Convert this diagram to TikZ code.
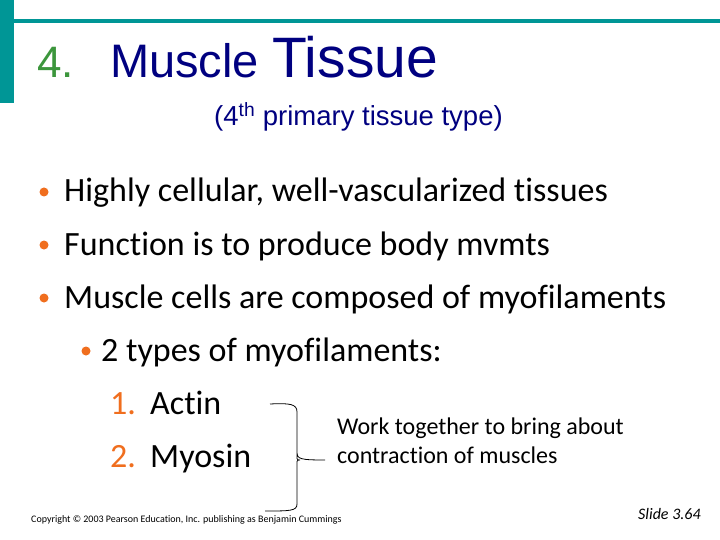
\documentclass[tikz,border=0pt]{standalone}
\usepackage{fontspec}
\setmainfont{Carlito}[Ligatures=NoCommon]
\newfontfamily\arialf{Liberation Sans}
\definecolor{teal1}{RGB}{0,150,150}
\definecolor{navy1}{RGB}{0,0,128}
\definecolor{green1}{RGB}{60,150,60}
\definecolor{orange1}{RGB}{240,110,30}
\begin{document}
\begin{tikzpicture}[x=1pt,y=-1pt,
  body/.style={anchor=base west,inner sep=0pt,font=\fontsize{34}{38}\selectfont},
  bul/.style={circle,fill=orange1,inner sep=0pt,minimum size=9pt},
  num/.style={anchor=base west,inner sep=0pt,font=\fontsize{34}{38}\selectfont,text=orange1}]
\useasboundingbox (0,0) rectangle (720,540);
\fill[white] (0,0) rectangle (720,540);
\fill[teal1] (0,0) rectangle (14,103);
\fill[teal1] (14,19) rectangle (720,23);
\node[anchor=base west,inner sep=0pt,text=green1,font=\arialf\fontsize{44}{48}\selectfont] (n4) at (37,78) {4.};
\node[anchor=base west,inner sep=0pt,text=navy1,font=\arialf\fontsize{47}{50}\selectfont] (t1) at (110,78) {Muscle};
\node[anchor=base west,inner sep=0pt,text=navy1,font=\arialf\fontsize{57}{60}\selectfont] (t2) at (272,78) {Tissue};
\node[anchor=base west,inner sep=0pt,text=navy1,font=\arialf\fontsize{27.5}{30}\selectfont] (sub) at (214,126) {(4\textsuperscript{th} primary tissue type)};
\node[bul] (b1) at (44,192) {};
\node[body] (l1) at (64,202) {Highly cellular, well-vascularized tissues};
\node[bul] (b2) at (44,245) {};
\node[body] (l2) at (64,255) {Function is to produce body mvmts};
\node[bul] (b3) at (44,298) {};
\node[body] (l3) at (64,308) {Muscle cells are composed of myofilaments};
\node[bul] (b4) at (86,351) {};
\node[body] (l4) at (101,361) {2 types of myofilaments:};
\node[num] (m1) at (110,414) {1.};
\node[body] (a1) at (150,414) {Actin};
\node[num] (m2) at (110,467) {2.};
\node[body] (a2) at (150,467) {Myosin};
\coordinate (bt) at (270,404);
\coordinate (bb) at (265,511);
\coordinate (tip) at (325,460);
\draw[line width=0.8pt] (bt) .. controls (290,403) and (297,404) .. (297,412) -- (297,452) .. controls (297,459) and (300,460) .. (tip)
  (297,468) -- (297,504) .. controls (297,511) and (290,511) .. (bb)
  (297,452) .. controls (297,459) and (296,460) .. (300,460) (297,468) .. controls (297,461) and (296,460) .. (300,460);
\node[anchor=base west,inner sep=0pt,align=left,font=\fontsize{24}{29}\selectfont] (w) at (337,463) {Work together to bring about\\contraction of muscles};
\node[anchor=base west,inner sep=0pt,font=\fontsize{10}{11}\selectfont] (c) at (31,522) {Copyright © 2003 Pearson Education, Inc. publishing as Benjamin Cummings};
\node[anchor=base west,inner sep=0pt,font=\itshape\fontsize{16}{17}\selectfont] (s) at (638,519) {Slide 3.64};
\end{tikzpicture}
\end{document}
